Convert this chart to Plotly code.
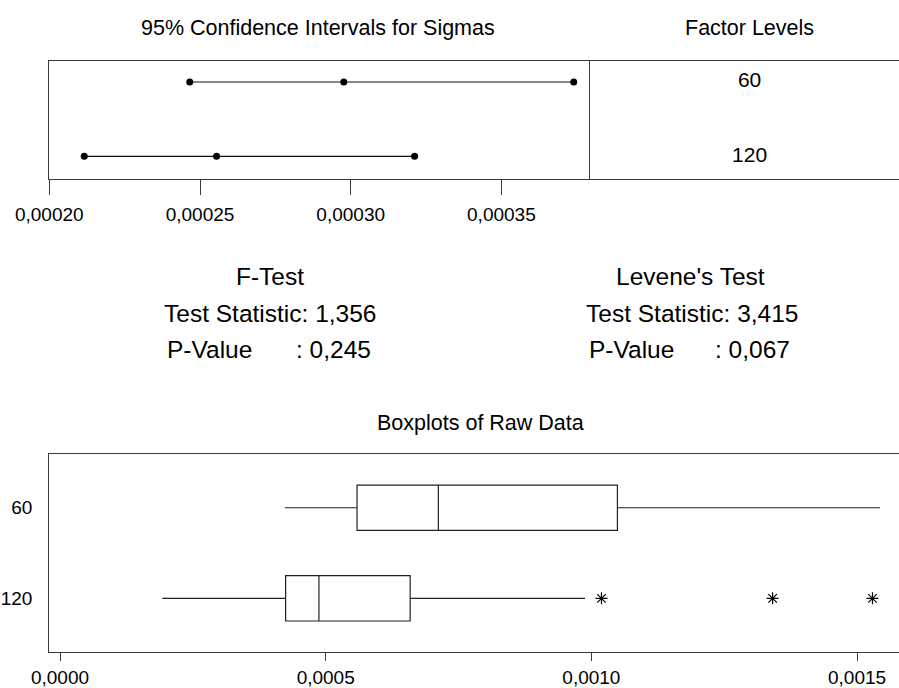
import plotly.graph_objects as go

# ---------------- data ----------------
levels = ["60", "120"]
sigma_lower = [0.0002466, 0.0002116]
sigma_est = [0.0002977, 0.0002555]
sigma_upper = [0.0003740, 0.0003212]

ci_ticks = [0.00020, 0.00025, 0.00030, 0.00035]
ci_ticktext = ["0,00020", "0,00025", "0,00030", "0,00035"]

box_q1 = [0.000559, 0.0004246]
box_median = [0.000712, 0.0004873]
box_q3 = [0.001049, 0.000659]
box_lower = [0.000423, 0.0001925]
box_upper = [0.001543, 0.000988]
outlier_x = [0.001019, 0.001341, 0.001529]
outlier_level = ["120", "120", "120"]

box_ticks = [0.0, 0.0005, 0.0010, 0.0015]
box_ticktext = ["0,0000", "0,0005", "0,0010", "0,0015"]

ftest_lines = ["F-Test", "Test Statistic: 1,356", "P-Value", ": 0,245"]
levene_lines = ["Levene's Test", "Test Statistic: 3,415", "P-Value", ": 0,067"]

# ---------------- layout helpers ----------------
W, H = 899, 688
FONT = "Arial, Liberation Sans, sans-serif"
LINE = "#3a3a3a"


def px(x):
    return x / W


def py(y):
    return 1 - y / H


fig = go.Figure()

# CI intervals
for lv, lo, est, hi in zip(levels, sigma_lower, sigma_est, sigma_upper):
    fig.add_trace(go.Scatter(
        x=[lo, est, hi], y=[lv, lv, lv], mode="lines+markers",
        line=dict(color="#111", width=1.2),
        marker=dict(color="black", size=7),
        xaxis="x", yaxis="y", showlegend=False, hoverinfo="x"))

# Factor levels
fig.add_trace(go.Scatter(
    x=[0.518] * len(levels), y=levels, mode="text", text=levels,
    textfont=dict(family=FONT, size=21, color="black"),
    xaxis="x2", yaxis="y2", showlegend=False, hoverinfo="skip"))

# Boxplots
fig.add_trace(go.Box(
    y=levels, q1=box_q1, median=box_median, q3=box_q3,
    lowerfence=box_lower, upperfence=box_upper,
    orientation="h", width=0.5, whiskerwidth=0,
    line=dict(color="#222", width=1.2), fillcolor="rgba(255,255,255,0)",
    xaxis="x3", yaxis="y3", showlegend=False, boxpoints=False))

fig.add_trace(go.Scatter(
    x=outlier_x, y=outlier_level, mode="markers",
    marker=dict(symbol="asterisk-open", size=10, color="black",
                line=dict(color="black", width=1.2)),
    xaxis="x3", yaxis="y3", showlegend=False))

axis_common = dict(showgrid=False, zeroline=False, linecolor=LINE, linewidth=1.3,
                   automargin=False,
                   tickcolor=LINE, tickfont=dict(family=FONT, size=19, color="black"))

ci_max = 0.0002 + (539.7 / 150.7) * 0.00005

fig.update_layout(
    width=W, height=H, autosize=False,
    margin=dict(l=0, r=0, t=0, b=0, pad=0),
    paper_bgcolor="white", plot_bgcolor="white",
    xaxis=dict(domain=[px(49.3), px(589)], range=[0.0002, ci_max],
               tickvals=ci_ticks, ticktext=ci_ticktext, ticks="outside",
               ticklen=15, showline=True, mirror=True, anchor="y",
               ticklabelstandoff=3, **axis_common),
    yaxis=dict(domain=[py(178.7), py(60.7)], type="category",
               categoryarray=["120", "60"], range=[-0.3015, 1.2867],
               showticklabels=False, ticks="", showline=True, mirror=True,
               anchor="x", **axis_common),
    xaxis2=dict(domain=[px(589), 1], range=[0, 1], showticklabels=False,
                ticks="", showline=True, mirror=True, anchor="y2", **axis_common),
    yaxis2=dict(domain=[py(178.7), py(60.7)], type="category",
                categoryarray=["120", "60"], range=[-0.3015, 1.2867],
                showticklabels=False, ticks="", showline=False, anchor="x2",
                **axis_common),
    xaxis3=dict(domain=[px(49.3), 1], range=[-0.00002014, 0.0015789],
                tickvals=box_ticks, ticktext=box_ticktext, ticks="outside",
                ticklen=8, showline=True, mirror=True, anchor="y3",
                ticklabelstandoff=0, **axis_common),
    yaxis3=dict(domain=[py(651.7), py(454)], type="category",
                categoryarray=["120", "60"], range=[-0.589, 1.593],
                ticks="", showline=True, anchor="x3", ticklabelstandoff=12,
                **axis_common),
)

ann = []


def add_text(text, x, y, size, xanchor="center"):
    ann.append(dict(text=text, x=px(x), y=py(y), xref="paper", yref="paper",
                    xanchor=xanchor, yanchor="middle", showarrow=False,
                    font=dict(family=FONT, size=size, color="black")))


add_text("95% Confidence Intervals for Sigmas", 318, 28, 21.5)
add_text("Factor Levels", 749.7, 28, 21.5)
add_text("Boxplots of Raw Data", 480.5, 422.7, 21.5)

add_text(ftest_lines[0], 269.5, 276.7, 24.5)
add_text(ftest_lines[1], 269.7, 313.3, 24.5)
add_text(ftest_lines[2], 165, 349, 24.5, "left")
add_text(ftest_lines[3], 372.7, 349, 24.5, "right")

add_text(levene_lines[0], 690.8, 276.7, 24.5)
add_text(levene_lines[1], 691.7, 313.3, 24.5)
add_text(levene_lines[2], 586.7, 349, 24.5, "left")
add_text(levene_lines[3], 791.7, 349, 24.5, "right")

fig.update_layout(annotations=ann)

fig.write_html("out.html", config={"displayModeBar": False},
               post_script="document.body.style.margin='0';document.body.style.overflow='hidden';")
